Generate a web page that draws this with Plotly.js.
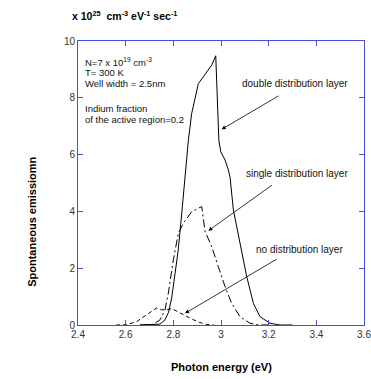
<!DOCTYPE html>
<html>
<head>
<meta charset="utf-8">
<script src="https://cdn.plot.ly/plotly-3.0.1.min.js"></script>
<style>html,body{margin:0;padding:0;background:#fff;}#chart{width:371px;height:379px;}</style>
</head>
<body>
<div id="chart"></div>
<script>
// Photon energy (eV) and spontaneous emission (x 1e25 cm^-3 eV^-1 s^-1)
const doubleX = [2.66, 2.70, 2.744, 2.765, 2.78, 2.793, 2.807, 2.82, 2.835, 2.856, 2.863, 2.877, 2.891, 2.905, 2.926, 2.945, 2.961, 2.978, 2.982, 2.989, 2.991, 2.999, 3.017, 3.031, 3.038, 3.052, 3.08, 3.108, 3.136, 3.164, 3.206, 3.248, 3.30];
const doubleY = [0, 0.005, 0.03, 0.18, 0.45, 0.95, 1.8, 2.6, 3.9, 5.8, 6.5, 7.45, 8.04, 8.5, 8.74, 8.95, 9.15, 9.48, 8.3, 6.93, 6.5, 6.10, 5.81, 5.46, 5.2, 4.05, 2.88, 1.70, 0.76, 0.29, 0.06, 0.0, 0];

const singleX = [2.66, 2.70, 2.715, 2.744, 2.765, 2.779, 2.80, 2.821, 2.842, 2.877, 2.919, 2.933, 2.945, 2.961, 2.989, 3.017, 3.045, 3.08, 3.122, 3.16, 3.20];
const singleY = [0, 0.005, 0.02, 0.18, 0.53, 1.12, 2.29, 3.23, 3.58, 3.99, 4.17, 3.3, 3.05, 2.76, 2.05, 1.35, 0.76, 0.29, 0.06, 0, 0];

const noneX = [2.56, 2.604, 2.646, 2.688, 2.71, 2.73, 2.75, 2.77, 2.793, 2.82, 2.85, 2.88, 2.91, 2.94, 2.97];
const noneY = [0, 0.01, 0.12, 0.35, 0.5, 0.6, 0.54, 0.53, 0.58, 0.45, 0.33, 0.2, 0.09, 0.02, 0];

const xTicks = [2.4, 2.6, 2.8, 3, 3.2, 3.4, 3.6];
const yTicks = [0, 2, 4, 6, 8, 10];

const axisColor = '#4b4bdc';
const font = 'Arial, "Liberation Sans", sans-serif';

const traces = [
  {x: doubleX, y: doubleY, mode: 'lines', line: {color: '#000', width: 1}, hoverinfo: 'skip'},
  {x: singleX, y: singleY, mode: 'lines', line: {color: '#000', width: 1, dash: '8px,3px,2px,3px'}, hoverinfo: 'skip'},
  {x: noneX, y: noneY, mode: 'lines', line: {color: '#000', width: 1, dash: '4px,3px'}, hoverinfo: 'skip'}
];

const txt = (x, y, t, s) => ({x: x, y: y, xref: 'x', yref: 'y', text: t, showarrow: false, xanchor: 'left', yanchor: 'middle', borderpad: 0, font: {family: font, size: s, color: '#111'}});
const arr = (x, y, ax, ay) => ({x: x, y: y, ax: ax, ay: ay, xref: 'x', yref: 'y', axref: 'x', ayref: 'y', text: '', showarrow: true, arrowhead: 2, arrowsize: 1, arrowwidth: 0.8, arrowcolor: '#000'});

const layout = {
  width: 371, height: 379,
  margin: {l: 78, r: 7, t: 41, b: 54},
  paper_bgcolor: '#fff', plot_bgcolor: '#fff',
  showlegend: false,
  font: {family: font, size: 10, color: '#333'},
  xaxis: {
    range: [2.4, 3.6], tickvals: xTicks, ticktext: xTicks.map(String),
    showgrid: false, zeroline: false, showline: true, linecolor: axisColor, linewidth: 1,
    mirror: 'allticks', ticks: 'inside', ticklen: 5, tickcolor: axisColor, tickwidth: 1,
    ticklabeloverflow: 'allow', automargin: false,
    tickfont: {family: font, size: 10, color: '#333'}
  },
  yaxis: {
    range: [0, 10], tickvals: yTicks, ticktext: yTicks.map(String),
    showgrid: false, zeroline: false, showline: true, linecolor: axisColor, linewidth: 1,
    mirror: 'allticks', ticks: 'inside', ticklen: 5, tickcolor: axisColor, tickwidth: 1,
    ticklabeloverflow: 'allow', automargin: false,
    tickfont: {family: font, size: 10, color: '#333'}
  },
  annotations: [
    {xref: 'paper', yref: 'paper', x: -0.024, y: 1.089, xanchor: 'left', yanchor: 'middle', showarrow: false, borderpad: 0,
     text: '<b>x 10<sup>25</sup>  cm<sup>-3</sup> eV<sup>-1</sup> sec<sup>-1</sup></b>', font: {family: font, size: 10.5, color: '#000'}},
    {xref: 'paper', yref: 'paper', x: -0.161, y: 0.363, xanchor: 'center', yanchor: 'middle', showarrow: false, textangle: -90,
     text: '<b>Spontaneous emissiomn</b>', font: {family: font, size: 11, color: '#000'}},
    {xref: 'paper', yref: 'paper', x: 0.5, y: -0.148, xanchor: 'center', yanchor: 'middle', showarrow: false,
     text: '<b>Photon energy (eV)</b>', font: {family: font, size: 11, color: '#000'}},
    txt(2.426, 9.26, 'N=7 x 10<sup>19</sup> cm<sup>-3</sup>', 9.5),
    txt(2.426, 8.88, 'T= 300 K', 9.5),
    txt(2.426, 8.49, 'Well width = 2.5nm', 9.5),
    txt(2.426, 7.61, 'Indium fraction', 9.5),
    txt(2.426, 7.22, 'of the active region=0.2', 9.5),
    txt(3.085, 8.52, 'double distribution layer', 10),
    txt(3.1, 5.34, 'single distribution layer', 10),
    txt(3.143, 2.67, 'no distribution layer', 10),
    arr(3.003, 6.89, 3.248, 8.10),
    arr(2.947, 3.32, 3.22, 4.96),
    arr(2.849, 0.41, 3.24, 2.35)
  ]
};

Plotly.newPlot('chart', traces, layout, {displayModeBar: false, staticPlot: true});
</script>
</body>
</html>
